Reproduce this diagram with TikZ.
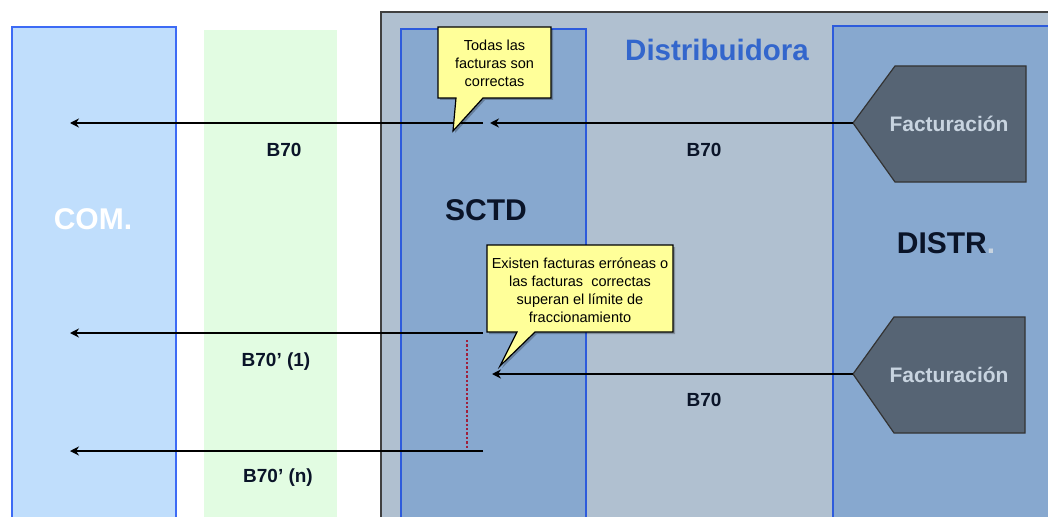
\documentclass[tikz,border=0pt]{standalone}
\usepackage{fontspec}
\setmainfont{Liberation Sans}
\usetikzlibrary{arrows.meta}

\definecolor{comfill}{HTML}{C0DEFC}
\definecolor{laneblue}{HTML}{3D6BF5}
\definecolor{greenlane}{HTML}{E2FCE2}
\definecolor{distpanel}{HTML}{B0C0D0}
\definecolor{panelline}{HTML}{404040}
\definecolor{innerfill}{HTML}{87A8CF}
\definecolor{innerline}{HTML}{2D5BDC}
\definecolor{factfill}{HTML}{566474}
\definecolor{facttext}{HTML}{C8D4E0}
\definecolor{titleblue}{HTML}{3366CC}
\definecolor{notefill}{HTML}{FFFF99}
\definecolor{dotred}{HTML}{A0203C}
\definecolor{darktext}{HTML}{0A1428}

\begin{document}
\begin{tikzpicture}[x=1pt,y=-1pt,
  lane/.style={anchor=north west,inner sep=0pt,outer sep=0pt},
  msglabel/.style={font=\bfseries\fontsize{19}{22}\selectfont,text=darktext},
  partlabel/.style={font=\bfseries\fontsize{30}{34}\selectfont},
  conn/.style={line width=2.8pt,-{Stealth[length=9pt,width=9pt]}},
  notebox/.style={fill=notefill,draw=black,line width=1.2pt,line join=miter},
  noteshadow/.style={fill=black,opacity=0.25},
  notetext/.style={align=center,font=\fontsize{14.5}{18}\selectfont,text=black},
  facttxt/.style={font=\bfseries\fontsize{21}{25}\selectfont,text=facttext}
]
\useasboundingbox (0,0) rectangle (1048,516);
\clip (0,0) rectangle (1048,516);
\fill[white] (0,0) rectangle (1048,516);

% lanes on the left
\node[lane,fill=comfill,draw=laneblue,line width=2.6pt,minimum width=164pt,minimum height=520pt] (com) at (12,27) {};
\node[lane,fill=greenlane,minimum width=133pt,minimum height=520pt] (green) at (204,30) {};

% distributor panel with its two lanes
\node[lane,fill=distpanel,draw=panelline,line width=2.4pt,minimum width=700pt,minimum height=520pt] (dist) at (381,12) {};
\node[lane,fill=innerfill,draw=innerline,line width=2.6pt,minimum width=185pt,minimum height=520pt] (sctd) at (401,29) {};
\node[lane,fill=innerfill,draw=innerline,line width=2.6pt,minimum width=240pt,minimum height=520pt] (distr) at (833,26) {};

% titles
\node[font=\bfseries\fontsize{29.5}{33}\selectfont,text=titleblue] (disttitle) at (717,50) {Distribuidora};
\node[partlabel,text=white] (comlabel) at (93,219) {COM.};
\node[partlabel,text=darktext] (sctdlabel) at (486,210) {SCTD};
\node[partlabel,text=darktext,font=\bfseries\fontsize{30}{34}\selectfont] (distrlabel) at (946,243) {DISTR\textcolor{facttext}{.}};

% billing blocks
\draw[fill=factfill,draw=black!80,line width=1.2pt] (853,123) -- (895,66) -- (1026,66) -- (1026,182) -- (895,182) -- cycle;
\node[facttxt] (fact1) at (949,124) {Facturación};
\coordinate (f1tip) at (853,123);
\draw[fill=factfill,draw=black!80,line width=1.2pt] (853,374) -- (894,317) -- (1025,317) -- (1025,433) -- (894,433) -- cycle;
\node[facttxt] (fact2) at (949,375) {Facturación};
\coordinate (f2tip) at (853,374);

% message end points
\coordinate (in1) at (490,123);
\coordinate (out1) at (483,123);
\coordinate (com1) at (70,123);
\coordinate (in2) at (492,374);
\coordinate (out2) at (483,333);
\coordinate (com2) at (70,333);
\coordinate (out3) at (483,451);
\coordinate (com3) at (70,451);
\coordinate (dottop) at (467,340);
\coordinate (dotbot) at (467,448);

% messages
\draw[conn] (f1tip) -- (in1);
\draw[conn] (out1) -- (com1);
\draw[conn] (f2tip) -- (in2);
\draw[conn] (out2) -- (com2);
\draw[conn] (out3) -- (com3);
\draw[dotred,line width=2.4pt,dash pattern=on 2.4pt off 2pt] (dottop) -- (dotbot);

% message labels
\node[msglabel] (m1) at (284,150) {B70};
\node[msglabel] (m2) at (704,150) {B70};
\node[msglabel] (m3) at (276,362) {B70’ (1)};
\node[msglabel] (m4) at (704,400) {B70};
\node[msglabel] (m5) at (278,478) {B70’ (n)};

% notes
\fill[noteshadow] (440,29) -- (553,29) -- (553,100) -- (485,100) -- (455,133) -- (458,100) -- (440,100) -- cycle;
\draw[notebox] (438,27) -- (551,27) -- (551,98) -- (483,98) -- (453,131) -- (456,98) -- (438,98) -- cycle;
\node[notetext] (note1) at (494.5,63) {Todas las\\facturas son\\correctas};

\fill[noteshadow] (489,247) -- (675,247) -- (675,334) -- (537,334) -- (502,368) -- (519,334) -- (489,334) -- cycle;
\draw[notebox] (487,245) -- (673,245) -- (673,332) -- (535,332) -- (500,366) -- (517,332) -- (487,332) -- cycle;
\node[notetext] (note2) at (580,290) {Existen facturas erróneas o\\las facturas~ correctas\\superan el límite de\\fraccionamiento};
\end{tikzpicture}
\end{document}
